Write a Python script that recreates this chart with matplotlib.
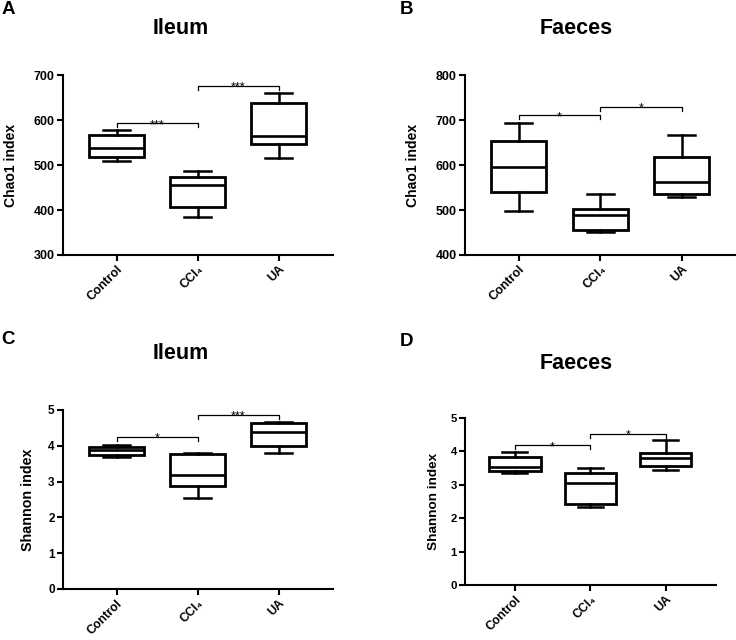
import matplotlib
matplotlib.use('Agg')
import matplotlib.pyplot as plt

plt.rcParams['font.family'] = ['Liberation Sans', 'DejaVu Sans']

groups = ['Control', 'CCl₄', 'UA']

# five-number summaries per group: whislo, q1, med, q3, whishi
ileum_chao1 = [[510, 519, 538, 567, 577],
               [384, 407, 455, 474, 487],
               [516, 546, 565, 639, 660]]
faeces_chao1 = [[498, 541, 596, 654, 693],
                [450, 456, 490, 503, 536],
                [530, 536, 562, 618, 667]]
ileum_shannon = [[3.68, 3.74, 3.88, 3.98, 4.03],
                 [2.55, 2.87, 3.19, 3.77, 3.81],
                 [3.81, 4.00, 4.39, 4.64, 4.67]]
faeces_shannon = [[3.36, 3.41, 3.53, 3.82, 3.97],
                  [2.34, 2.44, 3.05, 3.34, 3.51],
                  [3.45, 3.56, 3.79, 3.95, 4.33]]

# significance brackets: (left group, right group, height, label)
ileum_chao1_sig = [(1, 2, 593, '***'), (2, 3, 676, '***')]
faeces_chao1_sig = [(1, 2, 711, '*'), (2, 3, 729, '*')]
ileum_shannon_sig = [(1, 2, 4.25, '*'), (2, 3, 4.87, '***')]
faeces_shannon_sig = [(1, 2, 4.18, '*'), (2, 3, 4.52, '*')]

fig = plt.figure(figsize=(7.36, 6.4), dpi=100)


def panel(rect, data, sigs, ylim, yticks, ylabel, title, title_xy, letter, letter_xy,
          ylab_x, drop, fs=9, xfs=9, lfs=10.1):
    ax = fig.add_axes(rect)
    stats = []
    for g, (lo, q1, med, q3, hi) in zip(groups, data):
        stats.append(dict(label=g, whislo=lo, q1=q1, med=med, q3=q3, whishi=hi, fliers=[]))
    ax.bxp(stats, positions=[1, 2, 3], widths=0.68, capwidths=0.33, patch_artist=True,
           showfliers=False,
           boxprops=dict(facecolor='white', edgecolor='black', linewidth=2.0),
           medianprops=dict(color='black', linewidth=1.9),
           whiskerprops=dict(color='black', linewidth=1.8),
           capprops=dict(color='black', linewidth=1.8))
    for a, b, h, lab in sigs:
        ax.plot([a, a, b, b], [h - drop, h, h, h - drop], color='black', lw=0.9,
                clip_on=False)
        ax.annotate(lab, ((a + b) / 2, h), xytext=(0, -3.5), textcoords='offset points',
                    ha='center', va='baseline', fontsize=9)
    ax.set_xlim(0.34, 3.67)
    ax.set_ylim(*ylim)
    ax.set_yticks(yticks)
    ax.set_xticks([1, 2, 3])
    ax.set_xticklabels(groups, rotation=45, ha='right', rotation_mode='anchor',
                       fontsize=xfs, fontweight='bold')
    for t in ax.get_yticklabels():
        t.set_fontsize(fs)
        t.set_fontweight('bold')
    for s in ['top', 'right']:
        ax.spines[s].set_visible(False)
    for s in ['left', 'bottom']:
        ax.spines[s].set_linewidth(1.5)
    ax.tick_params(direction='out', length=4, width=1.5, pad=2)
    ax.set_ylabel(ylabel, fontsize=lfs, fontweight='bold')
    ax.yaxis.set_label_coords(ylab_x, 0.5)
    fig.text(title_xy[0], title_xy[1], title, ha='center', va='center',
             fontsize=15.5, fontweight='bold')
    fig.text(letter_xy[0], letter_xy[1], letter, ha='left', va='top',
             fontsize=13.5, fontweight='heavy')
    return ax


panel([0.0856, 0.6016, 0.367, 0.281], ileum_chao1, ileum_chao1_sig, (300, 700),
      [300, 400, 500, 600, 700], 'Chao1 index', 'Ileum', (0.245, 0.956),
      'A', (0.002, 0.998), -0.165, 9)
panel([0.632, 0.6016, 0.368, 0.281], faeces_chao1, faeces_chao1_sig, (400, 800),
      [400, 500, 600, 700, 800], 'Chao1 index', 'Faeces', (0.783, 0.956),
      'B', (0.543, 0.998), -0.165, 9)
panel([0.0856, 0.0797, 0.367, 0.2797], ileum_shannon, ileum_shannon_sig, (0, 5),
      [0, 1, 2, 3, 4, 5], 'Shannon index', 'Ileum', (0.245, 0.447),
      'C', (0.002, 0.483), -0.105, 0.11, fs=8.5, xfs=8.8, lfs=10.3)
panel([0.632, 0.0859, 0.341, 0.261], faeces_shannon, faeces_shannon_sig, (0, 5),
      [0, 1, 2, 3, 4, 5], 'Shannon index', 'Faeces', (0.783, 0.432),
      'D', (0.543, 0.480), -0.10, 0.12, fs=8.2, xfs=8.8, lfs=9.7)

fig.savefig('out.png', dpi=100)
